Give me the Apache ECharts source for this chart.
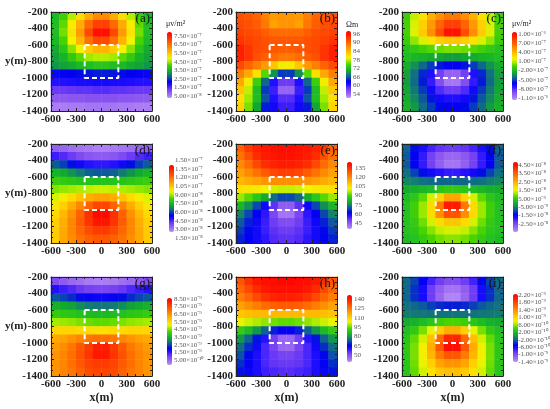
<!DOCTYPE html>
<html><head><meta charset="utf-8">
<script src="https://cdn.jsdelivr.net/npm/echarts@6/dist/echarts.min.js"></script>
<style>html,body{margin:0;padding:0;background:#fff}#c{width:550px;height:409px}</style>
</head><body><div id="c"></div>
<script>
// cell centres (m)
const xCells = [-550,-450,-350,-250,-150,-50,50,150,250,350,450,550];
const yCells = [-250,-350,-450,-550,-650,-750,-850,-950,-1050,-1150,-1250,-1350];
// anomaly box outline (m)
const boxX = [-200, 200, 200, -200, -200];
const boxY = [-600, -600, -1000, -1000, -600];

// (a) units 1e-7 µv/m²
const fieldA = [
[3.6,4.0,4.6,5.2,5.8,6.2,6.2,5.8,5.2,4.6,4.0,3.6],
[3.7,4.2,5.0,5.8,6.6,7.1,7.1,6.6,5.8,5.0,4.2,3.7],
[3.7,4.3,5.1,6.0,7.0,7.7,7.7,7.0,6.0,5.1,4.3,3.7],
[3.6,4.1,4.9,5.7,6.5,7.0,7.0,6.5,5.7,4.9,4.1,3.6],
[3.4,3.8,4.4,4.9,5.4,5.7,5.7,5.4,4.9,4.4,3.8,3.4],
[3.3,3.5,3.9,4.2,4.5,4.6,4.6,4.5,4.2,3.9,3.5,3.3],
[3.2,3.3,3.4,3.6,3.7,3.8,3.8,3.7,3.6,3.4,3.3,3.2],
[2.1,2.15,2.2,2.25,2.3,2.35,2.35,2.3,2.25,2.2,2.15,2.1],
[1.8,1.8,1.85,1.9,1.9,1.95,1.95,1.9,1.9,1.85,1.8,1.8],
[1.35,1.35,1.4,1.45,1.45,1.5,1.5,1.45,1.45,1.4,1.35,1.35],
[0.95,0.95,1.0,1.0,1.05,1.05,1.05,1.05,1.0,1.0,0.95,0.95],
[0.5,0.5,0.55,0.55,0.6,0.6,0.6,0.6,0.55,0.55,0.5,0.5]];
// (b) Ωm
const fieldB = [
[92.5,92,91,89,87,87.5,87.5,87,89,91,92,92.5],
[93,92.5,91.5,89.5,86.5,87.5,87.5,86.5,89.5,91.5,92.5,93],
[93.5,93,92.5,91.5,90.5,90.5,90.5,90.5,91.5,92.5,93,93.5],
[94.5,93.5,93,92.5,92,92,92,92,92.5,93,93.5,94.5],
[96,94.5,93,92.5,92,91.5,91.5,92,92.5,93,94.5,96],
[96,94.5,92.5,91.5,90.5,89.5,89.5,90.5,91.5,92.5,94.5,96],
[93,91,89,87,84,81,81,84,87,89,91,93],
[89,86,82,76,70,66,66,70,76,82,86,89],
[86,81,75,68,62,59,59,62,68,75,81,86],
[84,79,73,66,61,56,56,61,66,73,79,84],
[82,78,73,67,62,60,60,62,67,73,78,82],
[83,77,71,65,63,61,61,63,65,71,77,83]];
// (c) units 1e-7 µv/m²
const fieldC = [
[-0.5,1.5,3.0,4.8,6.0,6.8,6.8,6.0,4.8,3.0,1.5,-0.5],
[-0.3,1.8,3.6,5.6,7.5,8.8,8.8,7.5,5.6,3.6,1.8,-0.3],
[-0.3,1.9,3.8,6.0,8.3,10.5,10.5,8.3,6.0,3.8,1.9,-0.3],
[-0.6,0.8,1.8,2.8,3.6,4.0,4.0,3.6,2.8,1.8,0.8,-0.6],
[-1.2,-0.8,-0.4,0,0.3,0.5,0.5,0.3,0,-0.4,-0.8,-1.2],
[-1.5,-1.8,-2.0,-2.3,-2.5,-2.7,-2.7,-2.5,-2.3,-2.0,-1.8,-1.5],
[-2.2,-3.0,-4.0,-5.0,-5.6,-6.0,-6.0,-5.6,-5.0,-4.0,-3.0,-2.2],
[-2.6,-3.8,-5.3,-7.0,-8.7,-10.0,-10.0,-8.7,-7.0,-5.3,-3.8,-2.6],
[-2.7,-3.9,-5.5,-7.4,-9.2,-10.8,-10.8,-9.2,-7.4,-5.5,-3.9,-2.7],
[-2.5,-3.6,-5.0,-6.6,-7.9,-8.6,-8.6,-7.9,-6.6,-5.0,-3.6,-2.5],
[-2.2,-3.2,-4.4,-5.6,-6.6,-7.0,-7.0,-6.6,-5.6,-4.4,-3.2,-2.2],
[-2.0,-2.8,-3.9,-5.0,-5.8,-6.1,-6.1,-5.8,-5.0,-3.9,-2.8,-2.0]];
// (d) units 1e-8
const fieldD = [
[3.4,3.3,3.1,3.0,2.9,2.8,2.8,2.9,3.0,3.1,3.3,3.4],
[4.6,4.4,4.1,3.8,3.6,3.5,3.5,3.6,3.8,4.1,4.4,4.6],
[6.2,5.9,5.5,5.1,4.8,4.7,4.7,4.8,5.1,5.5,5.9,6.2],
[7.4,7.2,6.9,6.6,6.3,6.2,6.2,6.3,6.6,6.9,7.2,7.4],
[8.1,8.0,7.9,7.8,7.8,7.8,7.8,7.8,7.8,7.9,8.0,8.1],
[8.7,8.8,8.9,9.0,9.1,9.2,9.2,9.1,9.0,8.9,8.8,8.7],
[9.3,9.6,10.0,10.4,10.8,11.0,11.0,10.8,10.4,10.0,9.6,9.3],
[9.7,10.2,10.8,11.5,12.2,12.7,12.7,12.2,11.5,10.8,10.2,9.7],
[10.0,10.6,11.3,12.2,13.1,13.9,13.9,13.1,12.2,11.3,10.6,10.0],
[10.2,10.8,11.5,12.3,13.0,13.6,13.6,13.0,12.3,11.5,10.8,10.2],
[10.3,10.9,11.5,12.1,12.6,12.9,12.9,12.6,12.1,11.5,10.9,10.3],
[10.3,10.9,11.4,11.9,12.2,12.4,12.4,12.2,11.9,11.4,10.9,10.3]];
// (e) Ωm
const fieldE = [
[127,134,138,140,141,142,142,141,140,138,134,127],
[124,130,136,139,140,141,141,140,139,136,130,124],
[120,125,131,136,138,139,139,138,136,131,125,120],
[116,120,124,128,131,133,133,131,128,124,120,116],
[112,114,116,118,119,119,119,119,118,116,114,112],
[105,104,103,101,99,98,98,99,101,103,104,105],
[95,91,86,80,72,68,68,72,80,86,91,95],
[82,76,68,60,52,44,44,52,60,68,76,82],
[75,68,62,56,48,40,40,48,56,62,68,75],
[70,65,60,55,50,47,47,50,55,60,65,70],
[67,63,59,55,52,50,50,52,55,59,63,67],
[65,62,59,56,53,52,52,53,56,59,62,65]];
// (f) units 1e-9
const fieldF = [
[-7,-13,-17,-20,-22,-23,-23,-22,-20,-17,-13,-7],
[-8,-14,-19,-24,-27,-29,-29,-27,-24,-19,-14,-8],
[-8,-14,-19,-24,-28,-31,-31,-28,-24,-19,-14,-8],
[-6,-10,-13,-16,-18,-19,-19,-18,-16,-13,-10,-6],
[-4,-5,-6,-6.5,-7,-7,-7,-7,-6.5,-6,-5,-4],
[-0.5,0,1,2,4,5,5,4,2,1,0,-0.5],
[2,4,8,14,20,26,26,20,14,8,4,2],
[3,6,11,19,32,44,44,32,19,11,6,3],
[3,6,11,19,29,37,37,29,19,11,6,3],
[3,5,9,14,19,22,22,19,14,9,5,3],
[3,4,7,10,13,14,14,13,10,7,4,3],
[2,3,5,7,9,10,10,9,7,5,3,2]];
// (g) units 1e-9
const fieldG = [
[0.8,0.6,0.4,0.3,0.15,0.1,0.1,0.15,0.3,0.4,0.6,0.8],
[1.6,1.45,1.3,1.1,0.95,0.9,0.9,0.95,1.1,1.3,1.45,1.6],
[2.6,2.45,2.3,2.1,1.95,1.9,1.9,1.95,2.1,2.3,2.45,2.6],
[3.5,3.4,3.3,3.1,2.95,2.9,2.9,2.95,3.1,3.3,3.4,3.5],
[4.0,3.95,3.9,3.8,3.7,3.65,3.65,3.7,3.8,3.9,3.95,4.0],
[4.7,4.65,4.6,4.5,4.4,4.35,4.35,4.4,4.5,4.6,4.65,4.7],
[5.6,5.6,5.6,5.5,5.5,5.45,5.45,5.5,5.5,5.6,5.6,5.6],
[6.2,6.3,6.5,6.7,6.9,7.0,7.0,6.9,6.7,6.5,6.3,6.2],
[6.4,6.6,6.9,7.3,7.7,8.1,8.1,7.7,7.3,6.9,6.6,6.4],
[6.5,6.7,7.0,7.4,7.8,8.2,8.2,7.8,7.4,7.0,6.7,6.5],
[6.5,6.7,7.0,7.3,7.6,7.7,7.7,7.6,7.3,7.0,6.7,6.5],
[6.5,6.7,6.9,7.2,7.5,7.6,7.6,7.5,7.2,6.9,6.7,6.5]];
// (h) Ωm
const fieldH = [
[131,137,141,143,144,145,145,144,143,141,137,131],
[128,133,138,141,143,143,143,143,141,138,133,128],
[124,128,133,137,139,140,140,139,137,133,128,124],
[118,121,124,127,129,130,130,129,127,124,121,118],
[112,113,114,114,114,114,114,114,114,114,113,112],
[103,101,99,97,95,94,94,95,97,99,101,103],
[90,86,80,74,68,65,65,68,74,80,86,90],
[80,74,67,60,53,46,46,53,60,67,74,80],
[75,69,63,57,52,46,46,52,57,63,69,75],
[72,66,61,57,54,52,52,54,57,61,66,72],
[69,65,61,57,55,54,54,55,57,61,65,69],
[67,64,61,58,57,56,56,57,58,61,64,67]];
// (i) units 1e-10
const fieldI = [
[-2,-3.5,-5.5,-8,-9.5,-10.5,-10.5,-9.5,-8,-5.5,-3.5,-2],
[-2.2,-4,-6.5,-9.5,-11.5,-12.8,-12.8,-11.5,-9.5,-6.5,-4,-2.2],
[-2.2,-4,-6.5,-9.5,-12,-13.8,-13.8,-12,-9.5,-6.5,-4,-2.2],
[-1.8,-2.2,-2.8,-3.6,-4.2,-4.5,-4.5,-4.2,-3.6,-2.8,-2.2,-1.8],
[-1.4,-1.5,-1.6,-1.7,-1.8,-1.8,-1.8,-1.8,-1.7,-1.6,-1.5,-1.4],
[0.5,1,1.8,2.6,3.5,4,4,3.5,2.6,1.8,1,0.5],
[2,3,5,7.5,10,12,12,10,7.5,5,3,2],
[2.5,4.5,7,11,16,20,20,16,11,7,4.5,2.5],
[2.8,5,8,12,17,21.5,21.5,17,12,8,5,2.8],
[2.7,5,8,11.5,15,17,17,15,11.5,8,5,2.7],
[2.6,4.8,7.5,10,12.5,13.5,13.5,12.5,10,7.5,4.8,2.6],
[2.5,4.5,7,9,10.5,11,11,10.5,9,7,4.5,2.5]];

// colour-bar tick labels (top to bottom)
const ticksA = ['7.50×10⁻⁷','6.50×10⁻⁷','5.50×10⁻⁷','4.50×10⁻⁷','3.50×10⁻⁷','2.50×10⁻⁷','1.50×10⁻⁷','5.00×10⁻⁸'];
const ticksB = ['96','90','84','78','72','66','60','54'];
const ticksC = ['1.00×10⁻⁶','7.00×10⁻⁷','4.00×10⁻⁷','1.00×10⁻⁷','-2.00×10⁻⁷','-5.00×10⁻⁷','-8.00×10⁻⁷','-1.10×10⁻⁶'];
const ticksD = ['1.50×10⁻⁷','1.35×10⁻⁷','1.20×10⁻⁷','1.05×10⁻⁷','9.00×10⁻⁸','7.50×10⁻⁸','6.00×10⁻⁸','4.50×10⁻⁸','3.00×10⁻⁸','1.50×10⁻⁸'];
const ticksE = ['135','120','105','90','75','60','45'];
const ticksF = ['4.50×10⁻⁸','3.50×10⁻⁸','2.50×10⁻⁸','1.50×10⁻⁸','5.00×10⁻⁹','-5.00×10⁻⁹','-1.50×10⁻⁸','-2.50×10⁻⁸'];
const ticksG = ['8.50×10⁻⁹','7.50×10⁻⁹','6.50×10⁻⁹','5.50×10⁻⁹','4.50×10⁻⁹','3.50×10⁻⁹','2.50×10⁻⁹','1.50×10⁻⁹','5.00×10⁻¹⁰'];
const ticksH = ['140','125','110','95','80','65','50'];
const ticksI = ['2.20×10⁻⁹','1.80×10⁻⁹','1.40×10⁻⁹','1.00×10⁻⁹','6.00×10⁻¹⁰','2.00×10⁻¹⁰','-2.00×10⁻¹⁰','-6.00×10⁻¹⁰','-1.00×10⁻⁹','-1.40×10⁻⁹'];
// colour scale ranges (same units as fields)
const rangeA = [0.27, 7.96], rangeB = [52.6, 98.8], rangeC = [-11.7, 11.4];
const rangeD = [2.5, 14.1], rangeE = [35, 145], rangeF = [-34.5, 48.6];
const rangeG = [-0.16, 8.63], rangeH = [38.75, 146.4], rangeI = [-14.5, 22.5];

const palette = ['#b890f6','#a070f2','#8852f0','#6434f6','#2010ff','#0000f0','#0a48b0','#127878','#12a830','#22c022','#48d400','#a0ea00','#f0f400','#ffd800','#ffb800','#ff9800','#ff7800','#ff5800','#ff3800','#ff1800','#ff0000'];

const panels = [
 {f:fieldA,t:ticksA,r:rangeA,tag:'(a)',gx:51,gy:12,bx:167,by:32,bh:66,lx:174,l0:36,l1:96},
 {f:fieldB,t:ticksB,r:rangeB,tag:'(b)',gx:236,gy:12,bx:346,by:31,bh:67,lx:353,l0:34,l1:94},
 {f:fieldC,t:ticksC,r:rangeC,tag:'(c)',gx:402,gy:12,bx:512,by:32,bh:68,lx:519,l0:34,l1:98},
 {f:fieldD,t:ticksD,r:rangeD,tag:'(d)',gx:51,gy:144,bx:169,by:165,bh:67,lx:175,l0:160,l1:238},
 {f:fieldE,t:ticksE,r:rangeE,tag:'(e)',gx:236,gy:144,bx:347,by:162,bh:67,lx:355,l0:168,l1:223},
 {f:fieldF,t:ticksF,r:rangeF,tag:'(f)',gx:402,gy:144,bx:513,by:162,bh:70,lx:519,l0:165,l1:224},
 {f:fieldG,t:ticksG,r:rangeG,tag:'(g)',gx:51,gy:277,bx:167,by:298,bh:67,lx:174,l0:299,l1:360},
 {f:fieldH,t:ticksH,r:rangeH,tag:'(h)',gx:236,gy:277,bx:347,by:295,bh:67,lx:354,l0:299,l1:355},
 {f:fieldI,t:ticksI,r:rangeI,tag:'(i)',gx:402,gy:277,bx:513,by:294,bh:68,lx:519,l0:295,l1:362}
];
const PW = 101, PH = 99;
const SERIF = '"Liberation Serif", "Times New Roman", serif';
const axLab = {fontFamily:SERIF, fontWeight:'bold', fontSize:11, color:'#222', margin:3,
  formatter:function(v){ return String(v); }};

const option = {animation:false, backgroundColor:'#fff', grid:[], xAxis:[], yAxis:[], series:[], visualMap:[], graphic:[]};

function valAxis(gi, pos, showLabel, min, max, interval){
  return {gridIndex:gi, type:'value', position:pos, min:min, max:max, interval:interval,
    axisLine:{show:true, onZero:false, lineStyle:{color:'#222', width:1}},
    axisTick:{show:true, inside:true, length:3, lineStyle:{color:'#222'}},
    minorTick:{show:true, splitNumber:3, length:2, lineStyle:{color:'#222'}},
    splitLine:{show:false}, minorSplitLine:{show:false},
    axisLabel:Object.assign({show:showLabel}, axLab), z:5};
}

panels.forEach(function(p, k){
  const gi = option.grid.length;
  option.grid.push({left:p.gx, top:p.gy, width:PW, height:PH});
  const xi = option.xAxis.length, yi = option.yAxis.length;
  option.xAxis.push({gridIndex:gi, type:'category', position:'bottom', data:xCells.map(String), show:false});
  option.xAxis.push(valAxis(gi, 'bottom', true, -600, 600, 300));
  option.xAxis.push(valAxis(gi, 'top', false, -600, 600, 300));
  option.yAxis.push({gridIndex:gi, type:'category', position:'left', inverse:true, data:yCells.map(String), show:false});
  option.yAxis.push(valAxis(gi, 'left', true, -1400, -200, 200));
  option.yAxis.push(valAxis(gi, 'right', false, -1400, -200, 200));
  const data = [];
  p.f.forEach(function(row, j){ row.forEach(function(v, i){ data.push([i, j, v]); }); });
  const si = option.series.length;
  option.series.push({type:'heatmap', xAxisIndex:xi, yAxisIndex:yi, data:data, progressive:0,
    itemStyle:{borderWidth:0}, emphasis:{disabled:true}});
  option.series.push({type:'line', xAxisIndex:xi+1, yAxisIndex:yi+1, symbol:'none', silent:true, z:10,
    data:boxX.map(function(x, n){ return [x, boxY[n]]; }),
    lineStyle:{color:'#fff', width:2, type:[5,3]}});
  option.visualMap.push({type:'continuous', seriesIndex:si, dimension:2, min:p.r[0], max:p.r[1],
    inRange:{color:palette}, calculable:false, hoverLink:false, left:p.bx, top:p.by, itemWidth:5, itemHeight:p.bh,
    padding:0, orient:'vertical'});
  // colour-bar tick labels
  const lg = option.grid.length;
  option.grid.push({left:p.lx - 2, top:p.l0, width:1, height:p.l1 - p.l0});
  option.xAxis.push({gridIndex:lg, type:'value', show:false, min:0, max:1});
  const n = p.t.length, labels = p.t;
  option.yAxis.push({gridIndex:lg, type:'value', position:'right', min:0, max:n - 1, interval:1,
    axisLine:{show:false}, axisTick:{show:false}, splitLine:{show:false},
    axisLabel:{margin:1, fontFamily:SERIF, fontSize:7, color:'#555',
      formatter:function(v){ const i = Math.round(v); return Math.abs(v - i) < 1e-6 ? labels[n - 1 - i] : ''; }}});
  // panel letter
  option.graphic.push({type:'text', x:p.gx + PW - 2, y:p.gy + 7, z:20,
    style:{text:p.tag, font:'13px ' + SERIF, fill:'#111', align:'right', verticalAlign:'middle'}});
  // y(m) name for first column
  if (k % 3 === 0) option.graphic.push({type:'text', x:5, y:p.gy + PH / 2, z:20,
    style:{text:'y(m)', font:'bold 11px ' + SERIF, fill:'#222', align:'left', verticalAlign:'middle'}});
  if (k >= 6) option.graphic.push({type:'text', x:p.gx + PW / 2, y:398, z:20,
    style:{text:'x(m)', font:'bold 12px ' + SERIF, fill:'#222', align:'center', verticalAlign:'middle'}});
});
// unit captions of the top row
[['μv/m²', 166, 24], ['Ωm', 346, 25], ['μv/m²', 512, 24]].forEach(function(u){
  option.graphic.push({type:'text', x:u[1], y:u[2], z:20,
    style:{text:u[0], font:'8px ' + SERIF, fill:'#222', align:'left', verticalAlign:'middle'}});
});

const chart = echarts.init(document.getElementById('c'), null, {renderer:'canvas'});
chart.setOption(option);
</script>
</body></html>
